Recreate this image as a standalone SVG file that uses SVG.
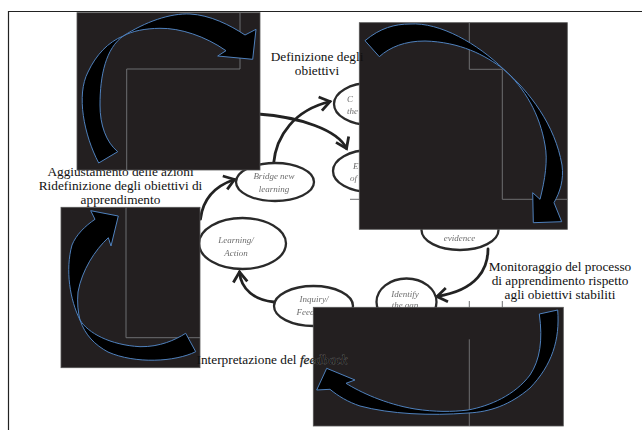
<svg xmlns="http://www.w3.org/2000/svg" width="642" height="430" viewBox="0 0 642 430">
<defs>
<style>
.box{fill:#231f20;stroke:#555;stroke-width:0.8}
.grid{fill:none;stroke:#6d6e71;stroke-width:1}
.big{fill:#000;stroke:#4f81bd;stroke-width:1;stroke-linejoin:miter}
.ell{fill:#fff;stroke:#2b2b2b;stroke-width:2.3}
.conn{fill:none;stroke:#222;stroke-width:2.8;stroke-linecap:round}
.et{font-family:"Liberation Serif",serif;font-style:italic;font-size:9px;fill:#6e6e6e;text-anchor:middle}
.ets{font-family:"Liberation Serif",serif;font-style:italic;font-size:9px;fill:#6e6e6e}
.lab{font-family:"Liberation Serif","Times New Roman",serif;font-size:13.3px;fill:#111;text-anchor:middle}
.halo{stroke:#8a8a8a;stroke-width:0.4;paint-order:stroke}
</style>
<filter id="soft" x="-5%" y="-5%" width="110%" height="110%"><feGaussianBlur stdDeviation="0.45"/></filter>
<marker id="chev" viewBox="-12 -9 14 18" refX="0" refY="0" markerWidth="14" markerHeight="18" markerUnits="userSpaceOnUse" orient="auto" overflow="visible">
<path d="M-10,-7 L0,0 L-10,7" fill="none" stroke="#222" stroke-width="2.8" stroke-linejoin="miter"/>
</marker>
</defs>
<rect width="642" height="430" fill="#fff"/>
<g id="frame" stroke="#222" stroke-width="1.2" fill="none">
<path d="M8.5,430 V11.5 H642"/>
</g>
<g id="cycle" filter="url(#soft)">
<g id="connectors">
<path class="conn" d="M273.5,164 C276,135 295,110 330,101.5" marker-end="url(#chev)"/>
<path class="conn" d="M258,114 C300,117 338,130 346.5,148.5" marker-end="url(#chev)"/>
<path class="conn" d="M200.5,219 C203,198 215,186 234.5,179.5" marker-end="url(#chev)"/>
<path class="conn" d="M274,302 C255,300 241,290 239.5,272" marker-end="url(#chev)"/>
<path class="conn" d="M488,249 C488,268 478,290 437,296.5" marker-end="url(#chev)"/>
</g>
<g id="node-c"><ellipse class="ell" cx="370" cy="104" rx="36" ry="21"/><text class="ets" x="347" y="102">C</text><text class="ets" x="347" y="114">the</text></g>
<g id="node-e"><ellipse class="ell" cx="370" cy="171" rx="37" ry="21"/><text class="ets" x="353" y="169">E</text><text class="ets" x="350" y="181">of</text></g>
<g id="node-bridge"><ellipse class="ell" cx="275" cy="182" rx="39" ry="19"/><text class="et" x="274" y="179">Bridge new</text><text class="et" x="274" y="192">learning</text></g>
<g id="node-learning"><ellipse class="ell" cx="242.5" cy="243.5" rx="43.5" ry="25.5"/><text class="et" x="236" y="243">Learning/</text><text class="et" x="236" y="256">Action</text></g>
<g id="node-inquiry"><ellipse class="ell" cx="313.5" cy="306" rx="39.5" ry="20"/><text class="et" x="314" y="302">Inquiry/</text><text class="et" x="314" y="315">Feedback</text></g>
<g id="node-identify"><ellipse class="ell" cx="406.5" cy="302" rx="30" ry="23.5"/><text class="et" x="405" y="297">Identify</text><text class="et" x="405" y="308">the gap</text></g>
<g id="node-evidence"><ellipse class="ell" cx="460" cy="230" rx="38.5" ry="20"/><text class="et" x="459.5" y="241">evidence</text></g>
</g>
<g id="label-aggiustamento">
<text class="lab" x="120.5" y="175.5">Aggiustamento delle azioni</text>
<text class="lab" x="120.5" y="189.5">Ridefinizione degli obiettivi di</text>
<text class="lab" x="120.5" y="203.5">apprendimento</text>
</g>
<g id="label-monitoraggio">
<text class="lab" x="560" y="271">Monitoraggio del processo</text>
<text class="lab" x="560" y="285">di apprendimento rispetto</text>
<text class="lab" x="560" y="299">agli obiettivi stabiliti</text>
</g>
<g id="gridbits" class="grid">
<path d="M350,199.3 H359.3"/>
<path d="M469.3,301 V307.3 M502.3,301 V307.3"/>
</g>
<g id="panel-top-left">
<rect class="box" x="77" y="12.7" width="183" height="157.3"/>
<path class="grid" d="M240,12.7 V69 H126.7 V170"/>
<path class="big" d="M98.7,163 C84,135 76,95 88,72 C96,55 108,42 123.3,36 C145,22 170,13 190,14 C210,15 230,25 245,35 L256,29.3 L252.7,59.3 L217.7,56 L226,50.7 C205,36 180,28 160,28.3 C145,28.5 132,31 123.3,36 C106,48 100,75 100,105 C100,125 106,142 117.7,151.7 Z"/>
</g>
<g id="panel-top-right">
<rect class="box" x="359.3" y="22.7" width="208" height="206.6"/>
<path class="grid" d="M469.3,22.7 V69.3 H502.3 V199.3 H567.3"/>
<path class="big" d="M365,40.7 C380,28 395,24 410,24 C440,22 478,44 503.3,69 C530,92 555,125 562,165 C564,180 560,192 554,202.7 L561.7,221.7 L533.3,222.7 L532.7,192.7 L540,199.3 C545,180 548,160 545,145 C540,115 525,88 503.3,69 C485,55 460,42 425,41 C405,41 390,47 379.3,56.7 Z"/>
</g>
<g id="panel-left">
<rect class="box" x="61" y="207.3" width="139" height="160.4"/>
<path class="grid" d="M126,207.3 V337.7 H200"/>
<path class="big" d="M195.7,351.7 C175,362 135,364 108,352 C95,345 85,335 80,320 C70,300 65,270 72,245 C76,235 85,226 95,219.3 L90.7,210.7 L118.3,216 L111,246 L108.3,237.7 C95,250 82,270 78,292 C77,303 78,312 80,320 C88,333 110,345 140,346.7 C160,347 175,340 185.7,333.3 Z"/>
</g>
<g id="panel-bottom-right">
<rect class="box" x="313.3" y="307.3" width="250" height="118.7"/>
<path class="grid" d="M469.3,339.3 V426"/>
<path class="big" d="M557.7,310 C560,340 552,365 530,388 C510,405 490,412 468,413 C430,416 390,414 360,406 C348,402 338,396 330,389.3 L316.7,390 L326.7,368.3 L355,380 L346,383.3 C360,392 385,404 415,409 C435,412 452,412 468,410 C490,406 515,395 530,375 C540,360 543,340 539.3,314 Z"/>
</g>
<g id="label-definizione">
<text class="lab" x="317" y="61">Definizione degli</text>
<text class="lab" x="317" y="75">obiettivi</text>
</g>
<g id="label-interpretazione">
<text class="lab" x="196.5" y="364" style="text-anchor:start">Interpretazione del <tspan class="halo" font-style="italic">feedback</tspan></text>
</g>
</svg>
